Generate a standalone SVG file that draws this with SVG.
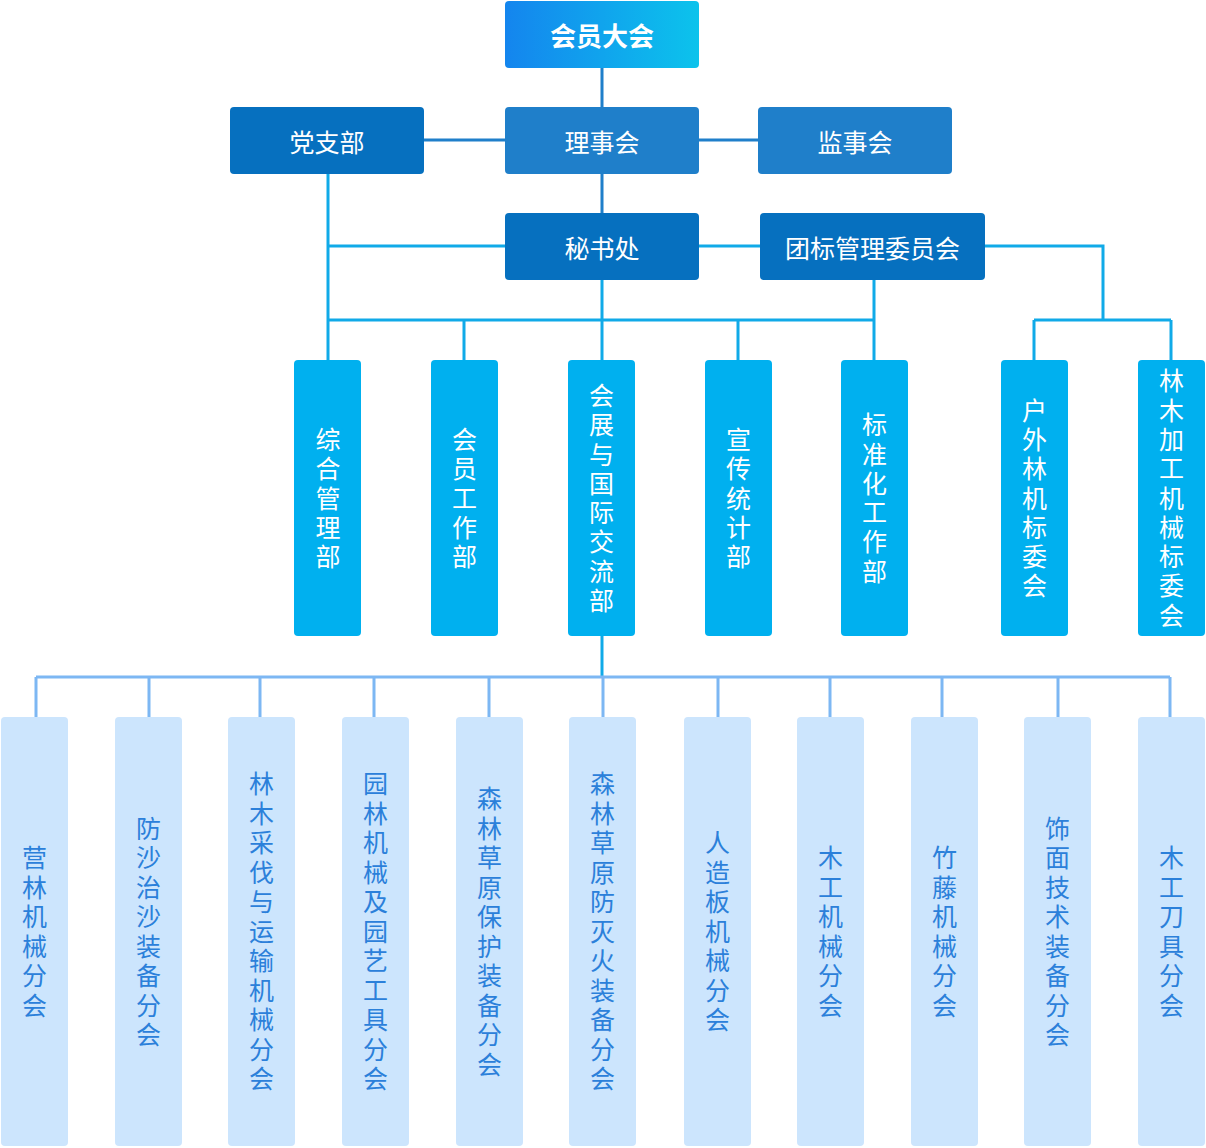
<svg xmlns="http://www.w3.org/2000/svg" width="1206" height="1148" viewBox="0 0 1206 1148">
<defs>
<linearGradient id="g1" x1="0" y1="0" x2="1" y2="0">
<stop offset="0" stop-color="#1485EE"/>
<stop offset="1" stop-color="#0CC3EC"/>
</linearGradient>
<style>
text{font-family:"Noto Sans CJK SC","Noto Sans",sans-serif;font-size:25px;text-anchor:middle}
.h{dominant-baseline:central}
.v{writing-mode:vertical-rl;text-orientation:upright}
.v4{letter-spacing:4.3px}
.vb{letter-spacing:4.5px}
.w{fill:#fff}
.b{fill:#2B80DA}
.top{fill:url(#g1)}
.dk{fill:#0670BF}
.md{fill:#1F7FCA}
.cy{fill:#00B0EF}
.lt{fill:#CCE5FD}
.l1{stroke:#1F7FCA;stroke-width:3;fill:none}
.l2{stroke:#10AAE8;stroke-width:3;fill:none}
.l3{stroke:#7DB7F3;stroke-width:3;fill:none}
</style>
</defs>
<g id="connectors">
<path class="l1" d="M602 68V107M424 140H505M699 140H758M602 174V213"/>
<path class="l2" d="M328 174V360M328 246H505M699 246H760M602 280V360M874 280V360M328 320H874M464 320V360M738 320V360M985 246H1103V320M1034 320H1171M1034 320V360M1171 320V360"/>
<path class="l2" d="M602 636V677"/>
<path class="l3" d="M36 677H1170M36 677V717M149 677V717M260 677V717M374 677V717M489 677V717M603 677V717M718 677V717M830 677V717M942 677V717M1058 677V717M1170 677V717"/>
</g>
<g id="n-huiyuandahui"><rect class="top" x="505" y="1" width="194" height="67" rx="4"/><text class="w h" x="602" y="34.5" style="font-weight:bold;font-size:26px">会员大会</text></g>
<g id="n-dangzhibu"><rect class="dk" x="230" y="107" width="194" height="67" rx="4"/><text class="w h" x="327" y="140.5">党支部</text></g>
<g id="n-lishihui"><rect class="md" x="505" y="107" width="194" height="67" rx="4"/><text class="w h" x="602" y="140.5">理事会</text></g>
<g id="n-jianshihui"><rect class="md" x="758" y="107" width="194" height="67" rx="4"/><text class="w h" x="855" y="140.5">监事会</text></g>
<g id="n-mishuchu"><rect class="dk" x="505" y="213" width="194" height="67" rx="4"/><text class="w h" x="602" y="246.5">秘书处</text></g>
<g id="n-tuanbiao"><rect class="dk" x="760" y="213" width="225" height="67" rx="4"/><text class="w h" x="872.5" y="246.5">团标管理委员会</text></g>

<g id="n-zonghe"><rect class="cy" x="294" y="360" width="67" height="276" rx="4"/><text class="w v v4" x="328" y="500.2">综合管理部</text></g>
<g id="n-huiyuangongzuo"><rect class="cy" x="431" y="360" width="67" height="276" rx="4"/><text class="w v v4" x="464.5" y="500.2">会员工作部</text></g>
<g id="n-huizhan"><rect class="cy" x="568" y="360" width="67" height="276" rx="4"/><text class="w v v4" x="601.5" y="500.2">会展与国际交流部</text></g>
<g id="n-xuanchuan"><rect class="cy" x="705" y="360" width="67" height="276" rx="4"/><text class="w v v4" x="738.5" y="500.2">宣传统计部</text></g>
<g id="n-biaozhunhua"><rect class="cy" x="841" y="360" width="67" height="276" rx="4"/><text class="w v v4" x="874.5" y="500.2">标准化工作部</text></g>
<g id="n-huwai"><rect class="cy" x="1001" y="360" width="67" height="276" rx="4"/><text class="w v v4" x="1034.5" y="500.2">户外林机标委会</text></g>
<g id="n-linmujiagong"><rect class="cy" x="1138" y="360" width="67" height="276" rx="4"/><text class="w v v4" x="1171.5" y="500.2">林木加工机械标委会</text></g>

<g id="n-b1"><rect class="lt" x="1" y="717" width="67" height="429" rx="4"/><text class="b v vb" x="34.5" y="933.7">营林机械分会</text></g>
<g id="n-b2"><rect class="lt" x="115" y="717" width="67" height="429" rx="4"/><text class="b v vb" x="148.5" y="933.7">防沙治沙装备分会</text></g>
<g id="n-b3"><rect class="lt" x="228" y="717" width="67" height="429" rx="4"/><text class="b v vb" x="261.5" y="933.7">林木采伐与运输机械分会</text></g>
<g id="n-b4"><rect class="lt" x="342" y="717" width="67" height="429" rx="4"/><text class="b v vb" x="375.5" y="933.7">园林机械及园艺工具分会</text></g>
<g id="n-b5"><rect class="lt" x="456" y="717" width="67" height="429" rx="4"/><text class="b v vb" x="489.5" y="933.7">森林草原保护装备分会</text></g>
<g id="n-b6"><rect class="lt" x="569" y="717" width="67" height="429" rx="4"/><text class="b v vb" x="602.5" y="933.7">森林草原防灭火装备分会</text></g>
<g id="n-b7"><rect class="lt" x="684" y="717" width="67" height="429" rx="4"/><text class="b v vb" x="717.5" y="933.7">人造板机械分会</text></g>
<g id="n-b8"><rect class="lt" x="797" y="717" width="67" height="429" rx="4"/><text class="b v vb" x="830.5" y="933.7">木工机械分会</text></g>
<g id="n-b9"><rect class="lt" x="911" y="717" width="67" height="429" rx="4"/><text class="b v vb" x="944.5" y="933.7">竹藤机械分会</text></g>
<g id="n-b10"><rect class="lt" x="1024" y="717" width="67" height="429" rx="4"/><text class="b v vb" x="1057.5" y="933.7">饰面技术装备分会</text></g>
<g id="n-b11"><rect class="lt" x="1138" y="717" width="67" height="429" rx="4"/><text class="b v vb" x="1171.5" y="933.7">木工刀具分会</text></g>
</svg>
